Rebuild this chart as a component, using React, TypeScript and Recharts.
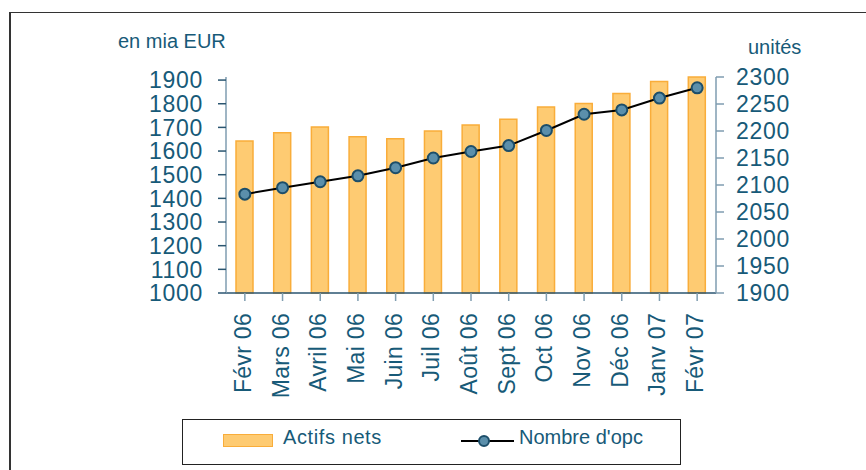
import React from "react";
import {
  Bar,
  ComposedChart,
  Line,
  XAxis,
  YAxis,
} from "recharts";

const months = [
  "Févr 06",
  "Mars 06",
  "Avril 06",
  "Mai 06",
  "Juin 06",
  "Juil 06",
  "Août 06",
  "Sept 06",
  "Oct 06",
  "Nov 06",
  "Déc 06",
  "Janv 07",
  "Févr 07",
];
// actifs nets, en mia EUR (axe de gauche)
const actifsNets = [1643, 1677, 1702, 1660, 1652, 1685, 1710, 1734, 1786, 1801, 1843, 1894, 1913];
// nombre d'opc, en unités (axe de droite)
const nombreOpc = [2083, 2095, 2106, 2117, 2132, 2150, 2162, 2173, 2201, 2231, 2239, 2261, 2280];

const leftTicks = [1000, 1100, 1200, 1300, 1400, 1500, 1600, 1700, 1800, 1900];
const rightTicks = [1900, 1950, 2000, 2050, 2100, 2150, 2200, 2250, 2300];

const seriesNames = { bars: "Actifs nets", line: "Nombre d'opc" };
const axisTitles = { left: "en mia EUR", right: "unités" };

const TEXT = "#175a78";
const AXIS = "#7f9db0";
const BAR_FILL = "#fecb72";
const BAR_STROKE = "#f9ad3a";
const DOT_FILL = "#5b8fab";
const DOT_STROKE = "#1c4e6a";
const FONT = "'Liberation Sans', Arial, sans-serif";

const data = months.map((m, i) => ({
  month: m,
  actifs: actifsNets[i],
  opc: nombreOpc[i],
}));

function MonthTick(props: any) {
  const { x, y, payload } = props;
  return (
    <g transform={`translate(${x},${y})`}>
      <text
        transform="rotate(-90)"
        x={0}
        y={0}
        dy={6}
        textAnchor="end"
        fill={TEXT}
        fontSize={23}
        fontFamily={FONT}
        letterSpacing={0.3}
      >
        {payload.value}
      </text>
    </g>
  );
}

const tickStyle = { fill: TEXT, fontSize: 23, fontFamily: FONT, letterSpacing: 0.7 };

export default function App() {
  return (
    <div
      style={{
        position: "absolute",
        left: 0,
        top: 0,
        width: 866,
        height: 470,
        overflow: "hidden",
        background: "#fff",
        fontFamily: FONT,
      }}
    >
      <div
        style={{
          position: "absolute",
          left: 9,
          top: 12,
          width: 900,
          height: 500,
          borderLeft: "2px solid #333",
          borderTop: "1.5px solid #333",
        }}
      />
      <div style={{ position: "absolute", left: 118, top: 30, fontSize: 20, color: TEXT }}>
        {axisTitles.left}
      </div>
      <div style={{ position: "absolute", left: 748, top: 36, fontSize: 20, color: TEXT }}>
        {axisTitles.right}
      </div>

      <div style={{ position: "absolute", left: 0, top: 0 }}>
        <ComposedChart
          width={866}
          height={470}
          data={data}
          margin={{ top: 77, right: 70, left: 146, bottom: 67 }}
        >
          <XAxis
            dataKey="month"
            height={110}
            interval={0}
            tick={<MonthTick />}
            tickSize={8}
            tickMargin={12}
            axisLine={{ stroke: "#2a5570", strokeWidth: 1.5 }}
            tickLine={{ stroke: AXIS, strokeWidth: 1.5 }}
          />
          <YAxis
            yAxisId="left"
            domain={[1000, 1900]}
            ticks={leftTicks}
            interval={0}
            width={80}
            tickSize={8}
            tickMargin={15}
            tick={tickStyle}
            axisLine={{ stroke: AXIS, strokeWidth: 1.5 }}
            tickLine={{ stroke: "#2a5570", strokeWidth: 1.5 }}
          />
          <YAxis
            yAxisId="right"
            orientation="right"
            domain={[1900, 2300]}
            ticks={rightTicks}
            interval={0}
            width={80}
            tickSize={8}
            tickMargin={12}
            tick={tickStyle}
            axisLine={{ stroke: AXIS, strokeWidth: 1.5 }}
            tickLine={{ stroke: AXIS, strokeWidth: 1.5 }}
          />
          <Bar
            yAxisId="left"
            dataKey="actifs"
            name={seriesNames.bars}
            barSize={17}
            fill={BAR_FILL}
            stroke={BAR_STROKE}
            strokeWidth={1.5}
            isAnimationActive={false}
          />
          <Line
            yAxisId="right"
            dataKey="opc"
            name={seriesNames.line}
            type="linear"
            stroke="#000"
            strokeWidth={2}
            dot={{ r: 5.5, fill: DOT_FILL, stroke: DOT_STROKE, strokeWidth: 2 }}
            isAnimationActive={false}
          />
        </ComposedChart>
      </div>

      {/* légende */}
      <div
        style={{
          position: "absolute",
          left: 182,
          top: 419,
          width: 497,
          height: 44,
          border: "1.5px solid #222",
          fontSize: 20,
          color: TEXT,
        }}
      >
        <div
          style={{
            position: "absolute",
            left: 40,
            top: 14,
            width: 48,
            height: 11,
            background: BAR_FILL,
            border: `1.5px solid ${BAR_STROKE}`,
          }}
        />
        <div style={{ position: "absolute", left: 100, top: 6, letterSpacing: 0.6 }}>
          {seriesNames.bars}
        </div>
        <svg style={{ position: "absolute", left: 277, top: 11 }} width={56} height={20}>
          <line x1={1} y1={10} x2={54} y2={10} stroke="#000" strokeWidth={2} />
          <circle cx={24} cy={10} r={5} fill={DOT_FILL} stroke={DOT_STROKE} strokeWidth={2} />
        </svg>
        <div style={{ position: "absolute", left: 336, top: 6 }}>{seriesNames.line}</div>
      </div>
    </div>
  );
}
